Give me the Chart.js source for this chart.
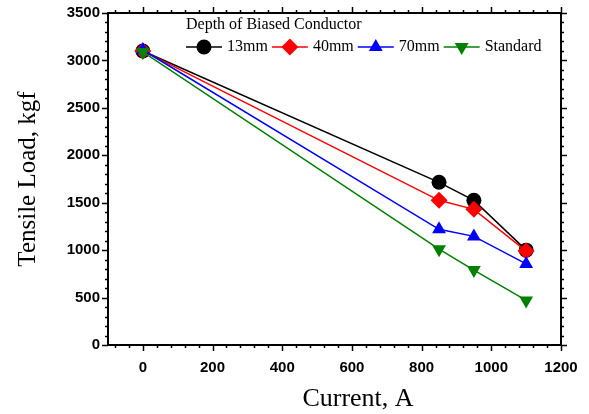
<!DOCTYPE html>
<html>
<head>
<meta charset="utf-8">
<script src="https://cdn.jsdelivr.net/npm/chart.js@4"></script>
<style>
  html, body { margin: 0; padding: 0; background: #fff; }
  #wrap { width: 589px; height: 414px; position: relative; }
</style>
</head>
<body>
<div id="wrap"><canvas id="c" width="589" height="414"></canvas></div>
<script>
(function () {
    'use strict';

    // ── Data ──────────────────────────────────────────────────────────────────
    var current    = [0, 850, 950, 1100];
    var depth13    = [3100, 1715, 1525, 1000];
    var depth40    = [3100, 1525, 1430, 990];
    var depth70    = [3110, 1220, 1145, 855];
    var standard   = [3090, 1010, 790, 470];
    var seriesNames = ['13mm', '40mm', '70mm', 'Standard'];
    var xTicks = [0, 200, 400, 600, 800, 1000, 1200];
    var yTicks = [0, 500, 1000, 1500, 2000, 2500, 3000, 3500];
    var legendTitle = 'Depth of Biased Conductor';
    var xTitle = 'Current, A';
    var yTitle = 'Tensile Load, kgf';

    function pts(ys) {
        return ys.map(function (y, i) { return { x: current[i], y: y }; });
    }

    var styles = [
        { color: '#000000', point: 'circle',   rot: 0,   r: 7.5 },
        { color: '#ff0000', point: 'rectRot',  rot: 0,   r: 8.5 },
        { color: '#0000ff', point: 'triangle', rot: 0,   r: 8 },
        { color: '#008000', point: 'triangle', rot: 180, r: 8 }
    ];

    // later series sit on top of earlier ones (lower order = drawn last)
    var datasets = [depth13, depth40, depth70, standard].map(function (ys, i) {
        var s = styles[i];
        return {
            label: seriesNames[i],
            data: pts(ys),
            order: 3 - i,
            borderColor: s.color,
            backgroundColor: s.color,
            borderWidth: 1.5,
            pointStyle: s.point,
            pointRotation: s.rot,
            pointRadius: s.r,
            pointBorderWidth: 0,
            tension: 0
        };
    });

    // ── Frame, minor ticks, legend, x title ──────────────────────────────────
    var framePlugin = {
        id: 'frame',
        afterDraw: function (chart) {
            var ctx = chart.ctx, a = chart.chartArea;
            var xs = chart.scales.x, ys = chart.scales.y;
            ctx.save();
            ctx.strokeStyle = '#000';
            ctx.lineWidth = 2;
            ctx.strokeRect(a.left, a.top, a.right - a.left, a.bottom - a.top);

            ctx.lineWidth = 1.5;
            ctx.beginPath();
            var v, p, len;
            for (v = -80; v <= 1200; v += 40) {
                p = Math.round(xs.getPixelForValue(v)) + 0.5;
                len = (v % 200 === 0) ? 6 : 3;
                ctx.moveTo(p, a.bottom); ctx.lineTo(p, a.bottom + len);
                ctx.moveTo(p, a.top); ctx.lineTo(p, a.top - len);
            }
            for (v = 0; v <= 3500; v += 100) {
                p = Math.round(ys.getPixelForValue(v)) + 0.5;
                len = (v % 500 === 0) ? 6 : 3;
                ctx.moveTo(a.left, p); ctx.lineTo(a.left - len, p);
                ctx.moveTo(a.right, p); ctx.lineTo(a.right + len, p);
            }
            ctx.stroke();

            // x axis title (sits right of centre in the original)
            ctx.fillStyle = '#000';
            ctx.font = '26px "Liberation Serif", "Times New Roman", serif';
            ctx.textAlign = 'center';
            ctx.textBaseline = 'alphabetic';
            ctx.fillText(xTitle, 358, 406);

            // legend
            ctx.font = '16px "Liberation Serif", "Times New Roman", serif';
            ctx.textBaseline = 'middle';
            ctx.textAlign = 'left';
            ctx.fillText(legendTitle, 186, 25);
            var lx = 186, ly = 47;
            for (var i = 0; i < seriesNames.length; i++) {
                var s = styles[i];
                ctx.strokeStyle = s.color;
                ctx.lineWidth = 1.5;
                ctx.beginPath();
                ctx.moveTo(lx, ly); ctx.lineTo(lx + 36, ly);
                ctx.stroke();
                ctx.fillStyle = s.color;
                Chart.helpers.drawPoint(ctx, {
                    pointStyle: s.point,
                    rotation: s.rot,
                    radius: s.r,
                    borderWidth: 0
                }, lx + 18, ly);
                ctx.fillStyle = '#000';
                ctx.fillText(seriesNames[i], lx + 41, ly);
                lx += 41 + ctx.measureText(seriesNames[i]).width + 4;
            }
            ctx.restore();
        }
    };

    var tickFont = { family: '"Liberation Sans", Arial, sans-serif', size: 15, weight: 'bold' };
    var titleFont = { family: '"Liberation Serif", "Times New Roman", serif', size: 25 };
    var plain = function (v) { return String(v); };

    new Chart(document.getElementById('c').getContext('2d'), {
        type: 'line',
        data: { datasets: datasets },
        plugins: [framePlugin],
        options: {
            responsive: false,
            animation: false,
            layout: { padding: { left: 0, right: 28, top: 13, bottom: 0 } },
            plugins: { legend: { display: false }, tooltip: { enabled: false } },
            scales: {
                x: {
                    type: 'linear',
                    min: -100,
                    max: 1200,
                    afterBuildTicks: function (s) { s.ticks = xTicks.map(function (v) { return { value: v }; }); },
                    afterFit: function (s) {
                        s.height = 69;
                        s.paddingLeft = 0;
                        s.paddingRight = 0;
                    },
                    grid: { display: false, drawTicks: false },
                    border: { display: false },
                    ticks: { color: '#000', font: tickFont, padding: 14, maxRotation: 0, callback: plain },
                    title: { display: false }
                },
                y: {
                    type: 'linear',
                    min: 0,
                    max: 3500,
                    afterBuildTicks: function (s) { s.ticks = yTicks.map(function (v) { return { value: v }; }); },
                    afterFit: function (s) {
                        s.width = 108;
                        s.paddingTop = 0;
                        s.paddingBottom = 0;
                    },
                    grid: { display: false, drawTicks: false },
                    border: { display: false },
                    ticks: { color: '#000', font: tickFont, padding: 8, callback: plain },
                    title: { display: true, text: yTitle, color: '#000', font: titleFont, padding: { top: 13, bottom: 0 } }
                }
            }
        }
    });
})();
</script>
</body>
</html>
